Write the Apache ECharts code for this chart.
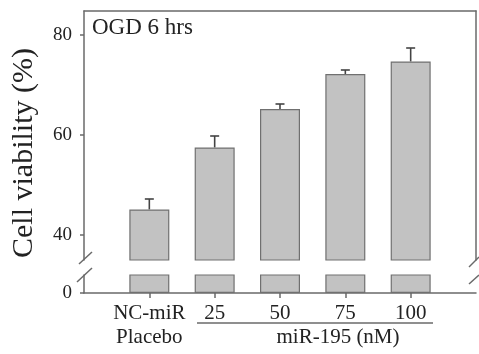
<!DOCTYPE html>
<html>
<head>
<meta charset="utf-8">
<script src="https://cdn.jsdelivr.net/npm/echarts@6/dist/echarts.min.js"></script>
<style>
  html, body { margin: 0; padding: 0; background: #fff; }
  #chart { width: 479px; height: 354px; }
</style>
</head>
<body>
<div id="chart"></div>
<script>
// Cell viability after 6 h OGD, placebo vs. miR-195 doses
const groupLabels = ['NC-miR\nPlacebo', '25', '50', '75', '100'];
const groupPos = [1, 2, 3, 4, 5];
const viability = [45.1, 57.5, 65.2, 72.2, 74.7];
const errUp = [2.1, 2.3, 1.0, 0.8, 2.7];
const upperTicks = [40, 60, 80];
const lowerTicks = [0];

const SERIF = "'Liberation Serif', 'Times New Roman', serif";
const AXIS = '#6a6a6a';
const barData = groupPos.map((p, i) => [p, viability[i]]);
const errData = groupPos.map((p, i) => [p, viability[i], viability[i] + errUp[i]]);

const chart = echarts.init(document.getElementById('chart'));

const hiddenX = (gridIndex, showLine) => ({
  type: 'value', gridIndex, min: 0, max: 6, position: 'top',
  axisLine: { show: showLine, onZero: false, lineStyle: { color: AXIS, width: 1.5 } },
  axisTick: { show: false }, axisLabel: { show: false }, splitLine: { show: false }
});

const barStyle = { color: '#c2c2c2', borderColor: '#707070', borderWidth: 1.2 };

chart.setOption({
  animation: false,
  grid: [
    { left: 84, right: 3, top: 11, height: 249 },
    { left: 84, right: 3, top: 275, height: 18 }
  ],
  xAxis: [
    hiddenX(0, true),
    {
      type: 'value', gridIndex: 1, min: 0, max: 6, position: 'bottom',
      axisLine: { onZero: false, lineStyle: { color: AXIS, width: 1.5 } },
      axisTick: { customValues: groupPos, length: 5, lineStyle: { color: AXIS, width: 1.5 } },
      axisLabel: {
        customValues: groupPos, margin: 8,
        formatter: v => groupLabels[groupPos.indexOf(v)] || '',
        fontFamily: SERIF, fontSize: 21, color: '#222', lineHeight: 24
      },
      splitLine: { show: false }
    }
  ],
  yAxis: [
    {
      type: 'value', gridIndex: 0, min: 35, max: 84.8, position: 'left',
      axisLine: { show: true, onZero: false, lineStyle: { color: AXIS, width: 1.5 } },
      axisTick: { customValues: upperTicks, length: 4, lineStyle: { color: AXIS, width: 1.5 } },
      axisLabel: { customValues: upperTicks, margin: 12, fontFamily: SERIF, fontSize: 19, color: '#222' },
      splitLine: { show: false }
    },
    {
      type: 'value', gridIndex: 0, min: 35, max: 84.8, position: 'right',
      axisLine: { show: true, onZero: false, lineStyle: { color: AXIS, width: 1.5 } },
      axisTick: { show: false }, axisLabel: { show: false }, splitLine: { show: false }
    },
    {
      type: 'value', gridIndex: 1, min: 0, max: 3.6, position: 'left',
      axisLine: { show: true, onZero: false, lineStyle: { color: AXIS, width: 1.5 } },
      axisTick: { customValues: lowerTicks, length: 4, lineStyle: { color: AXIS, width: 1.5 } },
      axisLabel: { customValues: lowerTicks, margin: 12, fontFamily: SERIF, fontSize: 19, color: '#222' },
      splitLine: { show: false }
    }
  ],
  series: [
    {
      type: 'bar', xAxisIndex: 0, yAxisIndex: 0, data: barData,
      barWidth: 40, clip: true, itemStyle: barStyle
    },
    {
      type: 'bar', xAxisIndex: 1, yAxisIndex: 2, data: barData,
      barWidth: 40, clip: true, itemStyle: barStyle
    },
    {
      type: 'custom', xAxisIndex: 0, yAxisIndex: 0, data: errData, z: 1,
      renderItem: (params, api) => {
        const base = api.coord([api.value(0), api.value(1)]);
        const top = api.coord([api.value(0), api.value(2)]);
        const style = { stroke: '#444', lineWidth: 1.6 };
        return {
          type: 'group',
          children: [
            { type: 'line', shape: { x1: base[0], y1: base[1], x2: top[0], y2: top[1] }, style },
            { type: 'line', shape: { x1: top[0] - 4.5, y1: top[1], x2: top[0] + 4.5, y2: top[1] }, style }
          ]
        };
      }
    }
  ],
  graphic: [
    {
      type: 'text', x: 24, y: 153, rotation: Math.PI / 2,
      style: { text: 'Cell viability (%)', font: "30px " + SERIF, fill: '#222', align: 'center', verticalAlign: 'middle' }
    },
    {
      type: 'text', x: 92, y: 28,
      style: { text: 'OGD 6 hrs', font: "23px " + SERIF, fill: '#222', align: 'left', verticalAlign: 'middle' }
    },
    {
      type: 'line', shape: { x1: 197, y1: 323, x2: 433, y2: 323 },
      style: { stroke: AXIS, lineWidth: 1.5 }
    },
    {
      type: 'text', x: 338, y: 337,
      style: { text: 'miR-195 (nM)', font: "21px " + SERIF, fill: '#222', align: 'center', verticalAlign: 'middle' }
    },
    // axis break marks
    { type: 'line', shape: { x1: 79, y1: 264, x2: 92, y2: 252 }, style: { stroke: AXIS, lineWidth: 1.5 } },
    { type: 'line', shape: { x1: 77, y1: 282, x2: 92, y2: 268 }, style: { stroke: AXIS, lineWidth: 1.5 } },
    { type: 'line', shape: { x1: 469, y1: 267, x2: 479, y2: 257 }, style: { stroke: AXIS, lineWidth: 1.5 } },
    { type: 'line', shape: { x1: 469, y1: 284, x2: 479, y2: 275 }, style: { stroke: AXIS, lineWidth: 1.5 } }
  ]
});
</script>
</body>
</html>
